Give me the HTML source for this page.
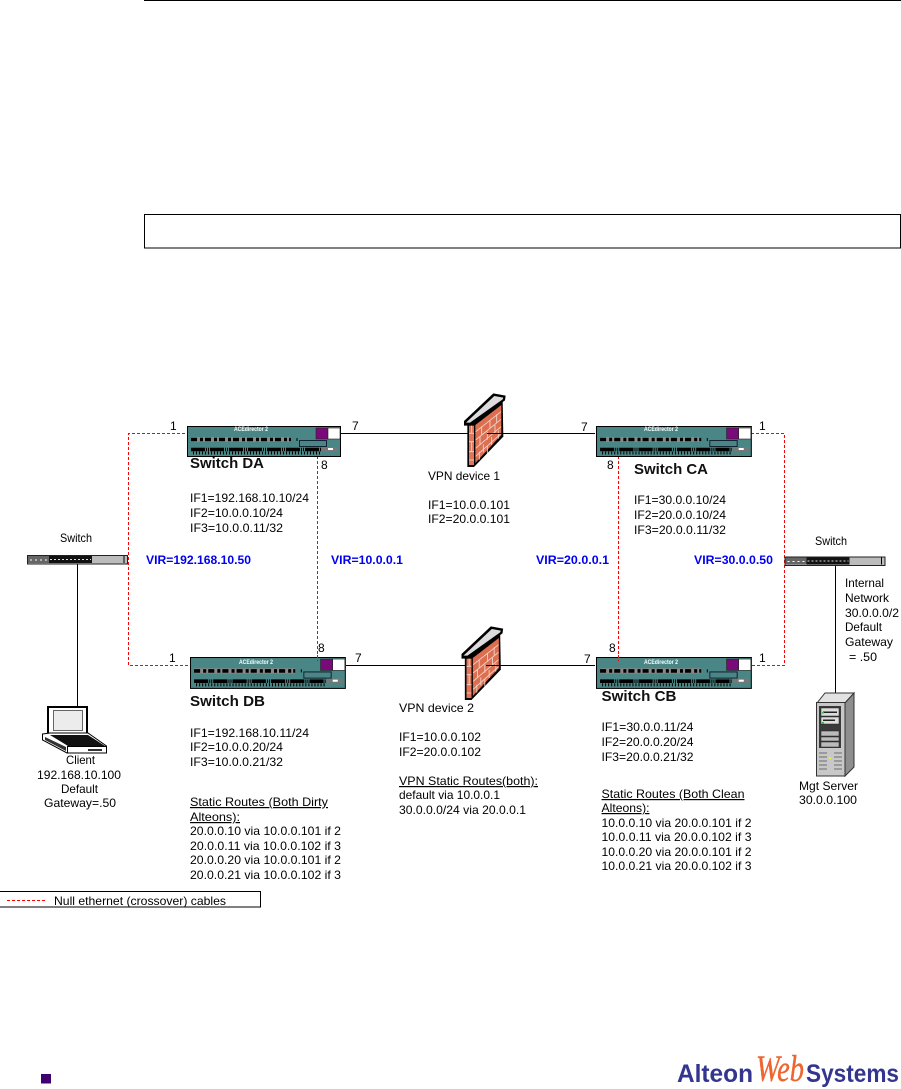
<!DOCTYPE html>
<html><head><meta charset="utf-8"><style>
html,body{margin:0;padding:0;background:#fff}
svg{display:block}
text{font-family:"Liberation Sans",Arial,sans-serif;font-size:12px;fill:#000}
.b{font-weight:bold;font-size:15px;fill:#111}
.v{font-weight:bold;font-size:11.5px;fill:#0000f0}
.u{text-decoration:underline}
.r{fill:none;stroke:#f00;stroke-width:1;stroke-dasharray:3 2;shape-rendering:crispEdges}
.k{fill:none;stroke:#000;stroke-width:1;shape-rendering:crispEdges}
</style></head><body>
<svg width="901" height="1089" viewBox="0 0 901 1089" xmlns="http://www.w3.org/2000/svg">
<defs>
<g id="sw">
<rect x="0.5" y="0.5" width="153" height="30" fill="#4a8686" stroke="#000"/>
<rect x="129" y="2" width="12" height="11" fill="#7a0a7a" stroke="#222" stroke-width=".6"/>
<rect x="141" y="2" width="12" height="11" fill="#fff" stroke="#222" stroke-width=".6"/>
<rect x="112.5" y="14.5" width="27" height="6" fill="none" stroke="#123" stroke-width="1"/>
<line x1="4" y1="13.5" x2="104" y2="13.5" stroke="#8a8a8a" stroke-width="5"/>
<line x1="4" y1="13.5" x2="104" y2="13.5" stroke="#000" stroke-width="3.5" stroke-dasharray="6 3 3 2"/>
<line x1="110" y1="12" x2="110" y2="15" stroke="#000"/>
<line x1="4" y1="23.5" x2="134" y2="23.5" stroke="#000" stroke-width="3.5" stroke-dasharray="14 1 1 1 1 1"/>
<line x1="6" y1="27" x2="134" y2="27" stroke="#000" stroke-width="3" stroke-dasharray="1 2"/>
<rect x="135" y="21" width="16" height="4" fill="#777"/>
<rect x="141" y="22" width="5" height="2" fill="#fff"/>
</g>
<g id="fw" transform="scale(.3333)">
<polygon points="52,118 158,46 160,155 72,246 52,246" fill="#000"/>
<rect x="57" y="122" width="15" height="118" fill="#e2745a"/>
<polygon points="76,120 154,60 154,150 76,234" fill="#dd6f50"/>
<g stroke="#f0d8d0" stroke-width="2.5" fill="none">
<path d="M77,140 L153,80 M77,165 L153,103 M77,190 L153,125 M77,214 L153,146"/>
<path d="M95,125 v24 M120,105 v24 M140,88 v24 M90,155 v24 M112,140 v24 M135,120 v24 M100,178 v24 M125,156 v24 M145,137 v24 M88,200 v24 M112,182 v24"/>
<path d="M57,145 h15 M57,170 h15 M57,200 h15 M57,225 h15 M65,122 v23 M65,170 v30"/>
</g>
<polygon points="42,108 130,25 167,32 165,46 62,122 42,122" fill="#000"/>
<polygon points="48,113 133,33 160,38 158,43 60,113" fill="#dcdcdc"/>
</g>
<g id="hub">
<rect x="0.5" y="0.5" width="100" height="8.5" fill="#bcbcbc" stroke="#222"/>
<rect x="1" y="1" width="21" height="7" fill="#666"/>
<line x1="3" y1="5" x2="20" y2="5" stroke="#fff" stroke-width="1" stroke-dasharray="2 3"/>
<rect x="22" y="1" width="43" height="7" fill="#111"/>
<line x1="23" y1="4.5" x2="64" y2="4.5" stroke="#ddd" stroke-width="1" stroke-dasharray="2 2"/>
<line x1="97" y1="1" x2="97" y2="8" stroke="#000"/>
</g>
</defs>

<line x1="144" y1="0.5" x2="901" y2="0.5" stroke="#000"/>
<rect x="144.5" y="214.5" width="756" height="33.5" fill="none" stroke="#000" shape-rendering="crispEdges"/>

<!-- connectors -->
<path class="r" d="M185 433.5H128.5V665.5H189"/>
<path class="r" d="M317.5 456V661"/>
<path class="r" d="M618.5 456V661"/>
<path class="r" d="M751 433.5H784.5V665.5H751"/>
<path class="k" d="M341 433.5H487M487 433.5H595"/>
<path class="k" d="M346 665.5H468M486 665.5H595"/>
<path class="k" d="M77.5 564V707"/>
<path class="k" d="M835.5 566V698"/>

<!-- switches -->
<use href="#sw" x="187" y="426"/>
<use href="#sw" transform="translate(596 426) scale(1.012 1)"/>
<use href="#sw" transform="translate(190 657) scale(1.012 1.03)"/>
<use href="#sw" transform="translate(596 657) scale(1.012 1.03)"/>
<path class="r" d="M317.5 655V661"/>
<path class="r" d="M618.5 655V661"/>
<text x="234" y="431" textLength="34" lengthAdjust="spacingAndGlyphs" style="font-size:6.5px;font-weight:bold;fill:#fff">ACEdirector 2</text>
<text x="644" y="431" textLength="34" lengthAdjust="spacingAndGlyphs" style="font-size:6.5px;font-weight:bold;fill:#fff">ACEdirector 2</text>
<text x="239" y="664" textLength="34" lengthAdjust="spacingAndGlyphs" style="font-size:6.5px;font-weight:bold;fill:#fff">ACEdirector 2</text>
<text x="644" y="664" textLength="34" lengthAdjust="spacingAndGlyphs" style="font-size:6.5px;font-weight:bold;fill:#fff">ACEdirector 2</text>

<!-- firewalls -->
<g transform="translate(450 385)"><use href="#fw"/></g>
<g transform="translate(447.5 618)"><use href="#fw"/></g>
<path class="k" d="M487 433.5H503"/>
<path class="k" d="M486 665.5H500"/>

<!-- hubs -->
<use href="#hub" x="27" y="555"/>
<use href="#hub" x="784.5" y="556.5"/>

<!-- laptop -->
<rect x="48" y="707" width="39" height="28" fill="#fff" stroke="#000" stroke-width="2"/>
<rect x="53.5" y="710.5" width="29" height="20" fill="#ececec" stroke="#666"/>
<polygon points="42.5,734 50,733 88,733 106.5,746 106.5,753 67,753 42.5,740" fill="#fff" stroke="#000"/>
<polygon points="50,735 88,735 105,746 68,746" fill="#111"/>
<polygon points="45,737 66,747 66,751 45,740" fill="#333"/>
<rect x="67.5" y="746.5" width="39" height="6.5" fill="#fff" stroke="#000"/>
<rect x="88" y="749" width="14" height="2" fill="#333"/>

<!-- server -->
<polygon points="817,703 825,693 854,693 845,703" fill="#e2e2e2" stroke="#333"/>
<polygon points="845,703 854,693 854,767 845,776" fill="#8e8e8e" stroke="#333"/>
<rect x="816.5" y="702.5" width="28.5" height="73.5" fill="#c8c8c8" stroke="#333"/>
<rect x="819" y="706" width="22" height="42" fill="#3a3a3a"/>
<rect x="821" y="708" width="18" height="8" fill="#ddd" stroke="#222" stroke-width=".5"/>
<rect x="823" y="711.5" width="14" height="1.5" fill="#222"/>
<rect x="821" y="717" width="18" height="7" fill="#ddd" stroke="#222" stroke-width=".5"/>
<rect x="823" y="719.5" width="12" height="1.5" fill="#222"/>
<rect x="822" y="712" width="2" height="1.5" fill="#2c2"/>
<rect x="822" y="722" width="2" height="1.5" fill="#2c2"/>
<rect x="821" y="731" width="18" height="5" fill="#bbb" stroke="#222" stroke-width=".5"/>
<rect x="821" y="737" width="18" height="4" fill="#bbb" stroke="#222" stroke-width=".5"/>
<rect x="821" y="742" width="18" height="5" fill="#bbb" stroke="#222" stroke-width=".5"/>
<path d="M819 753h8M819 757h8M819 761h8M819 765h8M819 769h8M834 753h8M834 757h8M834 761h8M834 765h8M834 769h8" stroke="#8a8a8a" stroke-width="1.5"/>
<rect x="829" y="757" width="2" height="2" fill="#ee3"/>

<!-- port labels -->
<text x="170" y="430">1</text><text x="352" y="430">7</text><text x="321" y="469">8</text>
<text x="169" y="662">1</text><text x="355" y="662">7</text><text x="318" y="652">8</text>
<text x="581" y="431">7</text><text x="759" y="430">1</text><text x="607" y="469">8</text>
<text x="609" y="652">8</text><text x="584" y="663">7</text><text x="759" y="662">1</text>

<!-- Switch DA -->
<text class="b" x="190" y="468" textLength="74" lengthAdjust="spacingAndGlyphs">Switch DA</text>
<text x="190" y="502" textLength="119" lengthAdjust="spacingAndGlyphs">IF1=192.168.10.10/24</text>
<text x="190" y="517" textLength="93" lengthAdjust="spacingAndGlyphs">IF2=10.0.0.10/24</text>
<text x="190" y="532" textLength="93" lengthAdjust="spacingAndGlyphs">IF3=10.0.0.11/32</text>

<!-- VPN 1 -->
<text x="428" y="480" textLength="72" lengthAdjust="spacingAndGlyphs">VPN device 1</text>
<text x="428" y="509" textLength="82" lengthAdjust="spacingAndGlyphs">IF1=10.0.0.101</text>
<text x="428" y="523" textLength="82" lengthAdjust="spacingAndGlyphs">IF2=20.0.0.101</text>

<!-- Switch CA -->
<text class="b" x="634" y="474" textLength="74" lengthAdjust="spacingAndGlyphs">Switch CA</text>
<text x="634" y="504" textLength="92" lengthAdjust="spacingAndGlyphs">IF1=30.0.0.10/24</text>
<text x="634" y="519" textLength="92" lengthAdjust="spacingAndGlyphs">IF2=20.0.0.10/24</text>
<text x="634" y="534" textLength="92" lengthAdjust="spacingAndGlyphs">IF3=20.0.0.11/32</text>

<!-- VIR -->
<text class="v" x="146" y="564" textLength="105" lengthAdjust="spacingAndGlyphs">VIR=192.168.10.50</text>
<text class="v" x="331" y="564" textLength="72" lengthAdjust="spacingAndGlyphs">VIR=10.0.0.1</text>
<text class="v" x="536" y="564" textLength="73" lengthAdjust="spacingAndGlyphs">VIR=20.0.0.1</text>
<text class="v" x="694" y="564" textLength="79" lengthAdjust="spacingAndGlyphs">VIR=30.0.0.50</text>

<!-- hubs labels -->
<text x="60" y="542" textLength="32" lengthAdjust="spacingAndGlyphs">Switch</text>
<text x="815" y="545" textLength="32" lengthAdjust="spacingAndGlyphs">Switch</text>

<!-- internal -->
<text x="845" y="587" textLength="39" lengthAdjust="spacingAndGlyphs">Internal</text>
<text x="845" y="602" textLength="44" lengthAdjust="spacingAndGlyphs">Network</text>
<text x="845" y="617" textLength="54" lengthAdjust="spacingAndGlyphs">30.0.0.0/2</text>
<text x="845" y="631" textLength="37" lengthAdjust="spacingAndGlyphs">Default</text>
<text x="845" y="646" textLength="48" lengthAdjust="spacingAndGlyphs">Gateway</text>
<text x="849" y="661" textLength="28" lengthAdjust="spacingAndGlyphs">= .50</text>

<!-- Switch DB -->
<text class="b" x="190" y="706" textLength="75" lengthAdjust="spacingAndGlyphs">Switch DB</text>
<text x="190" y="737" textLength="119" lengthAdjust="spacingAndGlyphs">IF1=192.168.10.11/24</text>
<text x="190" y="751" textLength="93" lengthAdjust="spacingAndGlyphs">IF2=10.0.0.20/24</text>
<text x="190" y="766" textLength="93" lengthAdjust="spacingAndGlyphs">IF3=10.0.0.21/32</text>
<text class="u" x="190" y="806" textLength="138" lengthAdjust="spacingAndGlyphs">Static Routes (Both Dirty</text>
<text class="u" x="190" y="821" textLength="50" lengthAdjust="spacingAndGlyphs">Alteons):</text>
<text x="190" y="835" textLength="151" lengthAdjust="spacingAndGlyphs">20.0.0.10 via 10.0.0.101 if 2</text>
<text x="190" y="850" textLength="151" lengthAdjust="spacingAndGlyphs">20.0.0.11 via 10.0.0.102 if 3</text>
<text x="190" y="864" textLength="151" lengthAdjust="spacingAndGlyphs">20.0.0.20 via 10.0.0.101 if 2</text>
<text x="190" y="879" textLength="151" lengthAdjust="spacingAndGlyphs">20.0.0.21 via 10.0.0.102 if 3</text>

<!-- VPN 2 -->
<text x="399" y="712" textLength="75" lengthAdjust="spacingAndGlyphs">VPN device 2</text>
<text x="399" y="741" textLength="82" lengthAdjust="spacingAndGlyphs">IF1=10.0.0.102</text>
<text x="399" y="756" textLength="82" lengthAdjust="spacingAndGlyphs">IF2=20.0.0.102</text>
<text class="u" x="399" y="785" textLength="139" lengthAdjust="spacingAndGlyphs">VPN Static Routes(both):</text>
<text x="399" y="799" textLength="101" lengthAdjust="spacingAndGlyphs">default via 10.0.0.1</text>
<text x="399" y="814" textLength="127" lengthAdjust="spacingAndGlyphs">30.0.0.0/24 via 20.0.0.1</text>

<!-- Switch CB -->
<text class="b" x="601.5" y="701" textLength="75" lengthAdjust="spacingAndGlyphs">Switch CB</text>
<text x="601.5" y="731" textLength="92" lengthAdjust="spacingAndGlyphs">IF1=30.0.0.11/24</text>
<text x="601.5" y="746" textLength="92" lengthAdjust="spacingAndGlyphs">IF2=20.0.0.20/24</text>
<text x="601.5" y="761" textLength="92" lengthAdjust="spacingAndGlyphs">IF3=20.0.0.21/32</text>
<text class="u" x="601.5" y="798" textLength="143" lengthAdjust="spacingAndGlyphs">Static Routes (Both Clean</text>
<text class="u" x="601.5" y="812" textLength="48" lengthAdjust="spacingAndGlyphs">Alteons):</text>
<text x="601.5" y="827" textLength="150" lengthAdjust="spacingAndGlyphs">10.0.0.10 via 20.0.0.101 if 2</text>
<text x="601.5" y="841" textLength="150" lengthAdjust="spacingAndGlyphs">10.0.0.11 via 20.0.0.102 if 3</text>
<text x="601.5" y="856" textLength="150" lengthAdjust="spacingAndGlyphs">10.0.0.20 via 20.0.0.101 if 2</text>
<text x="601.5" y="870" textLength="150" lengthAdjust="spacingAndGlyphs">10.0.0.21 via 20.0.0.102 if 3</text>

<!-- Client -->
<text x="66" y="764" textLength="29" lengthAdjust="spacingAndGlyphs">Client</text>
<text x="37" y="779" textLength="84" lengthAdjust="spacingAndGlyphs">192.168.10.100</text>
<text x="61" y="793" textLength="37" lengthAdjust="spacingAndGlyphs">Default</text>
<text x="44" y="807" textLength="72" lengthAdjust="spacingAndGlyphs">Gateway=.50</text>

<!-- Mgt -->
<text x="799" y="790" textLength="59" lengthAdjust="spacingAndGlyphs">Mgt Server</text>
<text x="799" y="804" textLength="58" lengthAdjust="spacingAndGlyphs">30.0.0.100</text>

<!-- legend -->
<rect x="-1" y="891.5" width="261.5" height="15.5" fill="none" stroke="#000" shape-rendering="crispEdges"/>
<path class="r" d="M7 900.5H45"/>
<text x="54" y="905" textLength="172" lengthAdjust="spacingAndGlyphs">Null ethernet (crossover) cables</text>

<!-- footer -->
<rect x="41" y="1074" width="10" height="9.5" fill="#3f0070"/>
<text x="677" y="1082" textLength="76" lengthAdjust="spacingAndGlyphs" style="font-size:25px;font-weight:bold;fill:#33358f">Alteon</text>
<text x="756" y="1081" textLength="48" lengthAdjust="spacingAndGlyphs" style="font-family:'Liberation Serif',serif;font-style:italic;font-size:37px;fill:#ee6530;stroke:#ee6530;stroke-width:.4">Web</text>
<text x="806" y="1082" textLength="93" lengthAdjust="spacingAndGlyphs" style="font-size:25px;font-weight:bold;fill:#33358f">Systems</text>
</svg>
</body></html>
